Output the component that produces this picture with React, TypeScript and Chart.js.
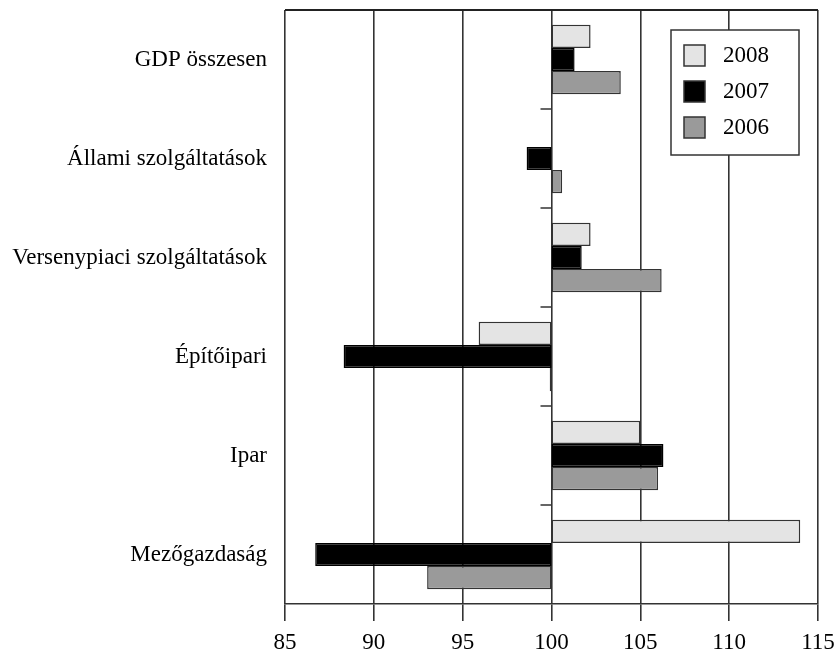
import React, { useEffect, useRef } from "react";
import { Chart, registerables } from "chart.js";

Chart.register(...registerables);

const categories = [
  "GDP összesen",
  "Állami szolgáltatások",
  "Versenypiaci szolgáltatások",
  "Építőipari",
  "Ipar",
  "Mezőgazdaság",
];
const seriesLabels = ["2008", "2007", "2006"];
const values2008 = [102.2, 100, 102.2, 95.9, 105.0, 114.0];
const values2007 = [101.3, 98.6, 101.7, 88.3, 106.3, 86.7];
const values2006 = [103.9, 100.6, 106.2, 99.9, 106.0, 93.0];
const baseValue = 100;
const xMin = 85;
const xMax = 115;
const xStep = 5;

const FONT = '"Liberation Serif", "Times New Roman", serif';

const framePlugin = {
  id: "frameAndTicks",
  afterDatasetsDraw(chart: any) {
    const { ctx, chartArea, scales } = chart;
    const x = scales.x;
    const y = scales.y;
    ctx.save();
    ctx.strokeStyle = "#222";
    ctx.lineWidth = 1.8;
    ctx.beginPath();
    ctx.moveTo(chartArea.left, chartArea.top);
    ctx.lineTo(chartArea.right, chartArea.top);
    ctx.stroke();
    ctx.strokeStyle = "#333";
    ctx.lineWidth = 1.5;
    const bx = x.getPixelForValue(baseValue);
    const step = y.getPixelForValue(1) - y.getPixelForValue(0);
    for (let i = 0; i < categories.length - 1; i++) {
      const yy = y.getPixelForValue(i) + step / 2;
      ctx.beginPath();
      ctx.moveTo(bx - 11, yy);
      ctx.lineTo(bx, yy);
      ctx.stroke();
    }
    ctx.restore();
  },
  afterDraw(chart: any) {
    const { ctx, chartArea } = chart;
    const w = 128;
    const h = 125;
    const bx = chartArea.right - 147;
    const by = chartArea.top + 20;
    ctx.save();
    ctx.fillStyle = "#fff";
    ctx.fillRect(bx, by, w, h);
    ctx.strokeStyle = "#333";
    ctx.lineWidth = 1.5;
    ctx.strokeRect(bx, by, w, h);
    chart.data.datasets.forEach((ds: any, i: number) => {
      const sx = bx + 13;
      const sy = by + 15 + i * 36;
      ctx.fillStyle = ds.backgroundColor;
      ctx.fillRect(sx, sy, 21, 21);
      ctx.strokeStyle = "#333";
      ctx.lineWidth = 1.5;
      ctx.strokeRect(sx, sy, 21, 21);
      ctx.fillStyle = "#000";
      ctx.font = `23px ${FONT}`;
      ctx.textBaseline = "middle";
      ctx.textAlign = "left";
      ctx.fillText(ds.label, bx + 52, sy + 11);
    });
    ctx.restore();
  },
};

export default function App() {
  const canvasRef = useRef<HTMLCanvasElement | null>(null);

  useEffect(() => {
    document.body.style.margin = "0";
    const canvas = canvasRef.current;
    if (!canvas) return;
    const toPairs = (arr: number[]) => arr.map((v) => [baseValue, v]);
    const fills = ["#e4e4e4", "#000000", "#9a9a9a"];
    const series = [values2008, values2007, values2006];
    const chart = new Chart(canvas, {
      type: "bar",
      data: {
        labels: categories,
        datasets: series.map((vals, i) => ({
          label: seriesLabels[i],
          data: toPairs(vals) as any,
          backgroundColor: fills[i],
          borderColor: i === 1 ? "#000" : "#333",
          borderWidth: 1.5,
          borderSkipped: false,
          categoryPercentage: 0.7,
          barPercentage: 1,
        })),
      },
      options: {
        indexAxis: "y",
        animation: false,
        responsive: false,
        layout: { padding: { top: 10, right: 21, left: 0, bottom: 0 } },
        plugins: {
          legend: { display: false },
          tooltip: { enabled: false },
        },
        scales: {
          x: {
            type: "linear",
            min: xMin,
            max: xMax,
            ticks: {
              stepSize: xStep,
              color: "#000",
              font: { family: FONT, size: 23 },
              padding: 8,
            },
            grid: {
              color: "#333",
              lineWidth: 1.6,
              tickLength: 17,
              drawTicks: true,
            },
            border: { display: true, color: "#333", width: 1.6 },
            afterFit: (scale: any) => {
              scale.height = 48;
              scale.paddingLeft = 0;
              scale.paddingRight = 0;
            },
          },
          y: {
            type: "category",
            ticks: {
              color: "#000",
              font: { family: FONT, size: 23 },
              padding: 18,
            },
            grid: { display: false, drawTicks: false },
            border: { display: false },
            afterFit: (scale: any) => {
              scale.width = 285;
              scale.paddingTop = 0;
              scale.paddingBottom = 0;
            },
          },
        },
      },
      plugins: [framePlugin],
    });
    return () => chart.destroy();
  }, []);

  return (
    <div style={{ width: 839, height: 652 }}>
      <canvas ref={canvasRef} width={839} height={652} />
    </div>
  );
}
